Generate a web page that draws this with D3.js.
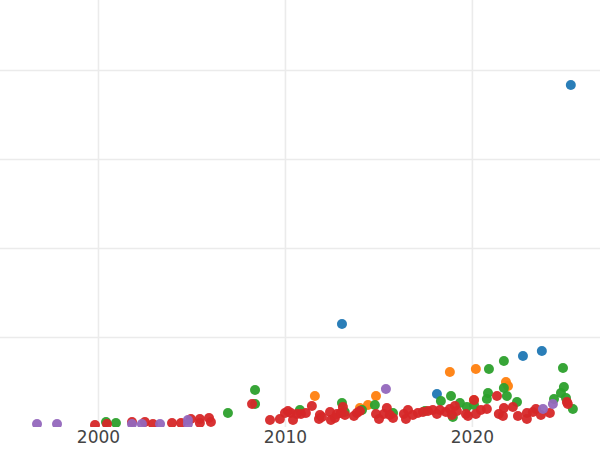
<!DOCTYPE html>
<html>
<head>
<meta charset="utf-8">
<script src="https://cdn.jsdelivr.net/npm/d3@7"></script>
<style>
  body { margin: 0; background: #fff; }
  .grid line { stroke: #ebebeb; stroke-width: 1.6; }
  .grid path { display: none; }
  .xaxis path, .xaxis line { display: none; }
  .xaxis text { font-family: "DejaVu Sans", sans-serif; font-size: 17px; fill: #444; }
</style>
</head>
<body>
<svg id="chart"></svg>
<script>
// data: [year, value]
const blue = [[2013.05, 114.6], [2018.13, 36.0], [2022.73, 78.7], [2023.74, 84.3], [2025.29, 383.1]];
const orange = [[2011.6, 33.7], [2014.01, 20.2], [2014.44, 23.6], [2014.87, 33.7], [2018.82, 60.7],
    [2020.21, 64.0], [2020.11, 29.0], [2021.82, 49.4], [2021.93, 44.9]];
const green = [[2000.43, 4.5], [2000.96, 3.4], [2006.95, 14.6], [2008.4, 40.4], [2008.4, 24.7],
    [2010.8, 18.0], [2013.05, 25.8], [2013.2, 15.7], [2014.12, 18.0], [2014.81, 23.6],
    [2015.78, 14.6], [2017.49, 16.9], [2018.34, 28.0], [2018.88, 33.7], [2018.98, 10.1],
    [2019.36, 25.8], [2019.73, 21.3], [2020.11, 23.6], [2020.8, 30.3], [2020.86, 37.1],
    [2020.91, 64.0], [2021.71, 73.0], [2021.71, 42.7], [2021.87, 33.7], [2022.41, 27.0],
    [2024.39, 30.3], [2024.76, 37.1], [2024.87, 65.2], [2024.92, 43.8], [2025.03, 31.5],
    [2025.4, 19.1]];
const red = [[1999.84, 1.1], [2000.48, 2.2], [2001.82, 4.5], [2002.51, 4.5], [2002.94, 2.2],
    [2003.96, 3.4], [2004.44, 3.4], [2004.97, 7.9], [2005.45, 7.9], [2005.45, 3.4],
    [2005.94, 9.0], [2006.04, 4.5], [2008.24, 24.7], [2009.2, 6.7], [2009.73, 7.9],
    [2010.0, 14.6], [2010.16, 16.9], [2010.32, 14.6], [2010.43, 6.7], [2010.64, 13.5],
    [2010.86, 13.5], [2011.12, 14.6], [2011.44, 22.5], [2011.82, 7.9], [2011.87, 12.4],
    [2011.98, 10.1], [2012.41, 15.7], [2012.46, 6.7], [2012.67, 9.0], [2012.78, 13.5],
    [2012.99, 14.6], [2013.1, 21.3], [2013.21, 12.4], [2013.69, 11.2], [2013.85, 14.6],
    [2014.01, 16.9], [2014.87, 13.5], [2015.03, 7.9], [2015.29, 13.5], [2015.45, 20.2],
    [2015.61, 12.4], [2015.78, 9.0], [2016.36, 13.5], [2016.47, 7.9], [2016.58, 18.0],
    [2016.84, 12.4], [2017.11, 14.6], [2017.38, 15.7], [2017.65, 16.9], [2017.91, 18.0],
    [2018.13, 13.5], [2018.29, 18.0], [2018.61, 15.7], [2018.82, 19.1], [2018.93, 12.4],
    [2019.09, 22.5], [2019.2, 16.9], [2019.68, 13.5], [2019.79, 11.2], [2020.11, 29.2],
    [2020.21, 13.5], [2020.48, 18.0], [2020.8, 19.1], [2021.34, 33.7], [2021.44, 13.5],
    [2021.66, 11.2], [2021.71, 20.2], [2022.19, 21.3], [2022.46, 11.2], [2022.94, 14.6],
    [2022.94, 7.9], [2023.26, 15.7], [2023.42, 19.1], [2023.69, 12.4], [2024.17, 14.6],
    [2025.08, 27.0], [2025.13, 24.7]];
const purple = [[1996.74, 2.2], [1997.81, 2.2], [2001.82, 2.2], [2002.35, 2.2], [2003.32, 2.2],
    [2004.81, 6.7], [2004.81, 2.2], [2015.4, 41.6], [2023.8, 19.1], [2024.33, 24.7]];

const xTicks = [2000, 2010, 2020];
const yGrid = [100, 200, 300, 400];

const series = [
    { data: blue, color: "#1f77b4" },
    { data: orange, color: "#ff7f0e" },
    { data: green, color: "#2ca02c" },
    { data: red, color: "#d62728" },
    { data: purple, color: "#9467bd" }
];

const width = 600;
const height = 450;
const plotH = 427;

const svg = d3.select("#chart")
    .attr("width", width)
    .attr("height", height);

const x = d3.scaleLinear().domain([1994.76, 2026.85]).range([0, width]);
const y = d3.scaleLinear().domain([0, 478.6]).range([426, 0]);

// gridlines
svg.append("g")
    .attr("class", "grid")
    .call(d3.axisLeft(y).tickValues(yGrid).tickSize(-width).tickFormat(""));

svg.append("g")
    .attr("class", "grid")
    .attr("transform", `translate(0, ${plotH})`)
    .call(d3.axisBottom(x).tickValues(xTicks).tickSize(-plotH).tickFormat(""));

// x labels
svg.append("g")
    .attr("class", "xaxis")
    .attr("transform", `translate(0, ${plotH})`)
    .call(d3.axisBottom(x).tickValues(xTicks).tickSize(0).tickPadding(4).tickFormat(d3.format("d")));

svg.append("clipPath")
    .attr("id", "clip")
    .append("rect")
    .attr("width", width)
    .attr("height", plotH);

const pts = svg.append("g").attr("clip-path", "url(#clip)");

series.forEach(s => {
    pts.selectAll(null)
        .data(s.data)
        .enter()
        .append("circle")
        .attr("cx", d => x(d[0]))
        .attr("cy", d => y(d[1]))
        .attr("r", 5)
        .attr("fill", s.color)
        .attr("fill-opacity", 0.95);
});
</script>
</body>
</html>
